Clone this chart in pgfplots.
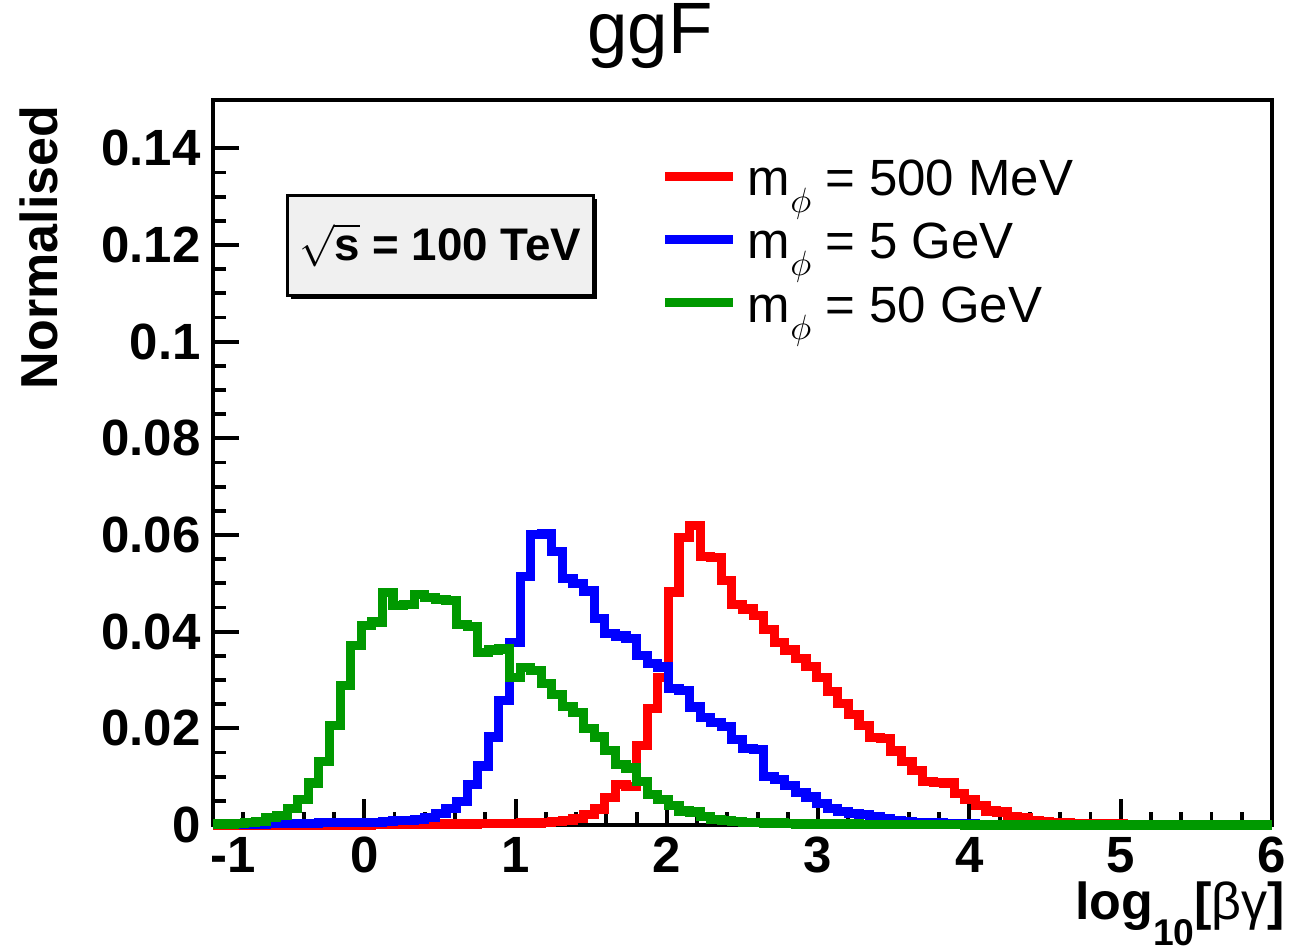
\documentclass[border=0pt]{standalone}
\usepackage{fontspec}
\setmainfont{Liberation Sans}
\usepackage{pgfplots}
\usepackage{pgfplotstable}
\pgfplotsset{compat=1.18}
\usetikzlibrary{shadows}
\definecolor{rootRed}{HTML}{FF0000}
\definecolor{rootBlue}{HTML}{0000FF}
\definecolor{rootGreen}{HTML}{009900}
\definecolor{paveGray}{HTML}{F0F0F0}

% bin left edges (width 0.07), contents for m=500 MeV (r), 5 GeV (b), 50 GeV (g)
\pgfplotstableread{
x r b g
-1.00 0 0.0001 0.0002
-0.93 0 0.0001 0.0002
-0.86 0 0.0001 0.0003
-0.79 0 0.0001 0.0005
-0.72 0 0.0001 0.0007
-0.65 0 0.0003 0.0016
-0.58 0 0.0003 0.0019
-0.51 0 0.0003 0.0035
-0.44 0 0.0003 0.0053
-0.37 0 0.0003 0.0087
-0.30 0 0.0005 0.0131
-0.23 0 0.0005 0.0206
-0.16 0 0.0005 0.0289
-0.09 0 0.0005 0.0371
-0.02 0 0.0005 0.0412
0.05 0.0001 0.0006 0.0420
0.12 0.0001 0.0007 0.0481
0.19 0.0001 0.0009 0.0455
0.26 0.0001 0.0010 0.0456
0.33 0.0001 0.0012 0.0477
0.40 0.0002 0.0016 0.0470
0.47 0.0002 0.0024 0.0467
0.54 0.0002 0.0035 0.0465
0.61 0.0002 0.0048 0.0415
0.68 0.0002 0.0083 0.0410
0.75 0.0003 0.0122 0.0357
0.82 0.0003 0.0182 0.0362
0.89 0.0003 0.0258 0.0364
0.96 0.0003 0.0378 0.0305
1.03 0.0004 0.0514 0.0325
1.10 0.0004 0.0601 0.0320
1.17 0.0005 0.0602 0.0292
1.24 0.0007 0.0565 0.0270
1.31 0.0010 0.0510 0.0245
1.38 0.0013 0.0499 0.0232
1.45 0.0022 0.0484 0.0200
1.52 0.0033 0.0427 0.0182
1.59 0.0056 0.0396 0.0154
1.66 0.0084 0.0391 0.0125
1.73 0.0080 0.0386 0.0118
1.80 0.0165 0.0351 0.0090
1.87 0.0241 0.0334 0.0063
1.94 0.0305 0.0327 0.0053
2.01 0.0482 0.0282 0.0040
2.08 0.0595 0.0278 0.0029
2.15 0.0620 0.0244 0.0027
2.22 0.0555 0.0222 0.0017
2.29 0.0553 0.0212 0.0012
2.36 0.0506 0.0203 0.0010
2.43 0.0457 0.0177 0.0008
2.50 0.0447 0.0158 0.0006
2.57 0.0433 0.0156 0.0005
2.64 0.0405 0.0101 0.0004
2.71 0.0378 0.0095 0.0004
2.78 0.0362 0.0082 0.0003
2.85 0.0345 0.0068 0.0002
2.92 0.0328 0.0058 0.0002
2.99 0.0306 0.0045 0.0002
3.06 0.0277 0.0035 0.0002
3.13 0.0252 0.0028 0.0002
3.20 0.0229 0.0024 0.0002
3.27 0.0205 0.0022 0.0001
3.34 0.0181 0.0017 0.0001
3.41 0.0179 0.0014 0.0001
3.48 0.0153 0.0010 0.0001
3.55 0.0132 0.0008 0.0001
3.62 0.0112 0.0006 0.0001
3.69 0.0090 0.0005 0.0001
3.76 0.0088 0.0004 0.0001
3.83 0.0087 0.0003 0.0001
3.90 0.0066 0.0002 0.0001
3.97 0.0053 0.0002 0
4.04 0.0040 0.0001 0
4.11 0.0029 0 0
4.18 0.0027 0 0
4.25 0.0018 0 0
4.32 0.0016 0 0
4.39 0.0009 0 0
4.46 0.0007 0 0
4.53 0.0005 0 0
4.60 0.0004 0 0
4.67 0.0003 0 0
4.74 0.0002 0 0
4.81 0.0002 0 0
4.88 0.0002 0 0
4.95 0.0002 0 0
5.02 0.0001 0 0
5.09 0.0001 0 0
5.16 0.0001 0 0
5.23 0.0001 0 0
5.30 0.0001 0 0
5.37 0 0 0
5.44 0 0 0
5.51 0 0 0
5.58 0 0 0
5.65 0 0 0
5.72 0 0 0
5.79 0 0 0
5.86 0 0 0
5.93 0 0 0
6.00 0 0 0
}\histos

\newcommand{\mphi}{m\raisebox{-0.33em}{$\scriptstyle\phi$}}

\begin{document}
\begin{tikzpicture}
\path[use as bounding box] (-2.13,-1.26) rectangle (10.93,8.25);
\begin{axis}[
  at={(0,0)}, anchor=south west,
  scale only axis, width=10.59cm, height=7.25cm,
  xmin=-1, xmax=6, ymin=0, ymax=0.15,
  clip=false,
  axis line style={line width=1.1pt},
  tick style={line width=1.1pt, black},
  tick align=inside,
  xtick pos=left, ytick pos=left,
  xtick={-1,0,1,2,3,4,5,6},
  xticklabels={\makebox[0pt][l]{\hspace{-0.02cm}-1},0,1,2,3,4,5,6},
  ytick={0,0.02,0.04,0.06,0.08,0.1,0.12,0.14},
  yticklabels={0,0.02,0.04,0.06,0.08,0.1,0.12,0.14},
  minor x tick num=4, minor y tick num=3,
  major tick length=0.26cm, minor tick length=0.13cm,
  /pgf/number format/assume math mode=true,
  ticklabel style={font=\fontsize{14.5}{14.5}\selectfont\bfseries},
  title={ggF},
  title style={at={(rel axis cs:0.4127,1.0345)}, anchor=base, font=\fontsize{20.7}{20.7}\selectfont},
  ylabel={Normalised},
  ylabel style={at={(rel axis cs:-0.1464,0.993)}, anchor=base east, inner sep=0pt,
    font=\fontsize{14.8}{14.8}\selectfont\bfseries},
  xlabel={log\raisebox{-0.5em}{\fontsize{10.6}{10.6}\selectfont 10}[{\mdseries βγ}]},
  xlabel style={at={(rel axis cs:1.013,-0.131)}, anchor=base east, inner sep=0pt,
    font=\fontsize{14.8}{14.8}\selectfont\bfseries},
  legend style={at={(rel axis cs:0.4221,0.9214)}, anchor=north west, draw=none, fill=none,
    inner sep=0pt, row sep=0pt, column sep=0.1cm,
    font=\fontsize{14.5}{14.5}\selectfont,
    nodes={inner sep=0pt, text height=0.38cm, text depth=0.253cm}},
  legend cell align=left,
  legend image code/.code={\draw[#1,line width=2.6pt] (0cm,0.13cm) -- (0.68cm,0.13cm);},
]
\addplot[const plot, rootRed, line width=2.6pt] table[x=x, y=r] {\histos};
\addlegendentry{\mphi{} = 500 MeV}
\addplot[const plot, rootBlue, line width=2.6pt] table[x=x, y=b] {\histos};
\addlegendentry{\mphi{} = 5 GeV}
\addplot[const plot, rootGreen, line width=2.6pt] table[x=x, y=g] {\histos};
\addlegendentry{\mphi{} = 50 GeV}
\node[draw, line width=0.85pt, fill=paveGray, minimum width=3.06cm, minimum height=1.0cm,
  inner sep=0pt, drop shadow={shadow xshift=0.035cm, shadow yshift=-0.035cm, opacity=1, fill=black},
  font=\fontsize{13}{13}\selectfont\bfseries] at (axis cs:0.501,0.1199) {$\sqrt{\mbox{s}}$ = 100 TeV};
\end{axis}
\end{tikzpicture}
\end{document}
